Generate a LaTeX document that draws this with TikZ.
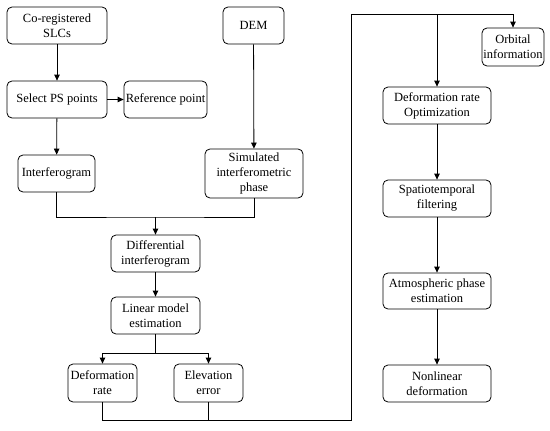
\documentclass[tikz,border=0pt]{standalone}
\usepackage{fontspec}
\setmainfont{Liberation Serif}
\usetikzlibrary{arrows.meta}

\begin{document}
\begin{tikzpicture}[x=1pt, y=-1pt,
        box/.style={draw, rounded corners=5pt, align=center, inner sep=0pt,
            line width=0.8pt, minimum height=37pt,
            font=\fontsize{12.5}{15}\selectfont},
        arr/.style={line width=0.8pt, -{Triangle[length=6pt,width=5.5pt]}},
        ln/.style={line width=0.8pt}]
        % Fix the page size
        \useasboundingbox (0,0) rectangle (550,431);

        % Left column
        \node[box, minimum width=100pt] (co) at (57,25.5) {Co-registered\\SLCs};
        \node[box, minimum width=100pt] (sel) at (57,99.5) {Select PS points};
        \node[box, minimum width=83pt] (ref) at (165.5,99.5) {Reference point};
        \node[box, minimum width=77pt] (ifg) at (56.5,173.5) {Interferogram};

        % DEM branch
        \node[box, minimum width=61pt] (dem) at (253.5,25.5) {DEM};
        \node[box, minimum width=98pt, minimum height=49pt] (sim) at (254,173.5) {Simulated\\interferometric\\phase};

        % Middle column
        \node[box, minimum width=89pt] (dif) at (155.5,253.5) {Differential\\interferogram};
        \node[box, minimum width=89pt] (lin) at (155.5,315.5) {Linear model\\estimation};
        \node[box, minimum width=69pt, minimum height=38pt] (defr) at (102.5,383) {Deformation\\rate};
        \node[box, minimum width=69pt, minimum height=38pt] (elev) at (208.5,383) {Elevation\\error};

        % Right column
        \node[box, minimum width=62pt, minimum height=38pt] (orb) at (513,47) {Orbital\\information};
        \node[box, minimum width=108pt] (opt) at (437,105.5) {Deformation rate\\Optimization};
        \node[box, minimum width=108pt] (spa) at (437,198.5) {Spatiotemporal\\filtering};
        \node[box, minimum width=108pt, minimum height=36pt] (atm) at (437,291) {Atmospheric phase\\estimation};
        \node[box, minimum width=108pt] (non) at (437,383.5) {Nonlinear\\deformation};

        % Junction points
        \coordinate (mrg) at (155.5,217);
        \coordinate (brn) at (155.5,353);
        \coordinate (bot) at (351.5,420);
        \coordinate (top) at (351.5,14);

        % Connectors
        \draw[arr] (co) -- (sel);
        \draw[arr] (sel) -- (ref);
        \draw[arr] (sel) -- (ifg);
        \draw[arr] (dem) -- (sim);
        \draw[ln] (ifg) |- (mrg) -| (sim);
        \draw[arr] (mrg) -- (dif);
        \draw[arr] (dif) -- (lin);
        \draw[ln] (lin) -- (brn);
        \draw[arr] (brn) -| (defr);
        \draw[arr] (brn) -| (elev);
        \draw[ln] (elev) -- (elev |- bot);
        \draw[arr] (defr) |- (bot) -- (top) -| (orb);
        \draw[arr] (opt |- top) -- (opt);
        \draw[arr] (opt) -- (spa);
        \draw[arr] (spa) -- (atm);
        \draw[arr] (atm) -- (non);
    \end{tikzpicture}
\end{document}
